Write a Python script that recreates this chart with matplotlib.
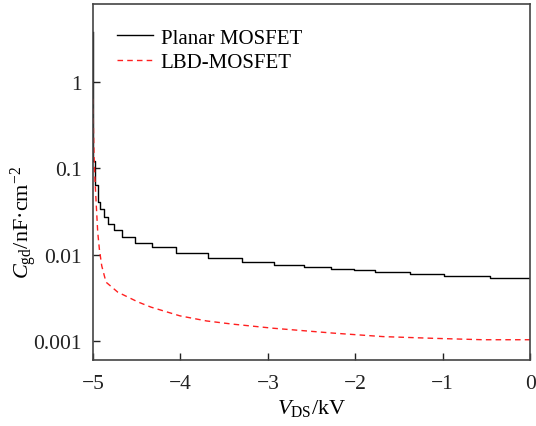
import matplotlib.pyplot as plt

plt.rcParams['font.family'] = ['Liberation Serif', 'DejaVu Serif']
plt.rcParams['mathtext.fontset'] = 'custom'
plt.rcParams['mathtext.rm'] = 'Liberation Serif'
plt.rcParams['mathtext.it'] = 'Liberation Serif:italic'

# Planar MOSFET (staircase)
vds_planar = [-5.0, -4.999, -4.995, -4.977, -4.946, -4.915, -4.877, -4.832, -4.763,
              -4.668, -4.519, -4.325, -4.045, -3.69, -3.29, -2.93, -2.59, -2.28,
              -2.01, -1.775, -1.57, -1.375, -1.226, -0.98, -0.74, -0.46, 0.0]
cgd_planar = [3.8, 0.5, 0.12, 0.064, 0.041, 0.0335, 0.0276, 0.0227, 0.0193,
              0.0162, 0.0138, 0.0121, 0.0104, 0.0091, 0.0081, 0.0075, 0.0071, 0.0068,
              0.0066, 0.0063, 0.0062, 0.0060, 0.0059, 0.0057, 0.0056, 0.0054, 0.0054]

# LBD-MOSFET
vds_lbd = [-5.0, -4.995, -4.988, -4.979, -4.966, -4.946, -4.927, -4.900, -4.851,
           -4.717, -4.488, -4.337, -4.007, -3.70, -3.397, -2.939, -2.256, -1.683,
           -1.11, -0.538, 0.0]
cgd_lbd = [0.64, 0.3, 0.14, 0.08, 0.0439, 0.0182, 0.01155, 0.0074, 0.00479,
           0.00367, 0.00283, 0.00246, 0.00195, 0.00170, 0.00156, 0.00140, 0.00123,
           0.00112, 0.00107, 0.00103, 0.00103]

xticks = [-5, -4, -3, -2, -1, 0]
yticks = [0.001, 0.01, 0.1, 1]
ytick_labels = ['0.001', '0.01', '0.1', '1']

fig = plt.figure(figsize=(5.36, 4.27), dpi=100)
ax = fig.add_axes([0.1735, 0.1546, 0.8155, 0.8334])

ax.plot(vds_planar, cgd_planar, color='black', lw=1.0, drawstyle='steps-post',
        label='Planar MOSFET')
ax.plot(vds_lbd, cgd_lbd, color='#ff2020', lw=1.0, ls=(0, (4, 3)),
        label='LBD-MOSFET')

ax.set_yscale('log')
ax.set_xlim(-5, 0)
ax.set_ylim(0.0006, 8)
ax.set_xticks(xticks)
ax.set_xticklabels(['\u2212%d' % -t if t < 0 else '%d' % t for t in xticks])
ax.set_yticks(yticks)
ax.set_yticklabels(ytick_labels)
ax.minorticks_off()
ax.tick_params(direction='in', length=5, width=1.0, labelsize=15.5, colors='#222222',
               top=False, right=False)
ax.tick_params(axis='x', pad=10)
ax.tick_params(axis='y', pad=8)
for s in ax.spines.values():
    s.set_color('#444444')
    s.set_linewidth(1.2)

ax.set_xlabel('$V_{\\mathrm{DS}}$/kV', fontsize=16)
ax.xaxis.set_label_coords(0.5, -0.105)
ax.set_ylabel('$C_{\\mathrm{gd}}$/nF\u00b7cm$^{-2}$', fontsize=16)
ax.yaxis.set_label_coords(-0.124, 0.39)

ax.legend(loc='upper left', frameon=False, fontsize=15, handlelength=1.75,
          handletextpad=0.35, borderaxespad=0.75, labelspacing=0.25)

fig.savefig('out.png', dpi=100)
